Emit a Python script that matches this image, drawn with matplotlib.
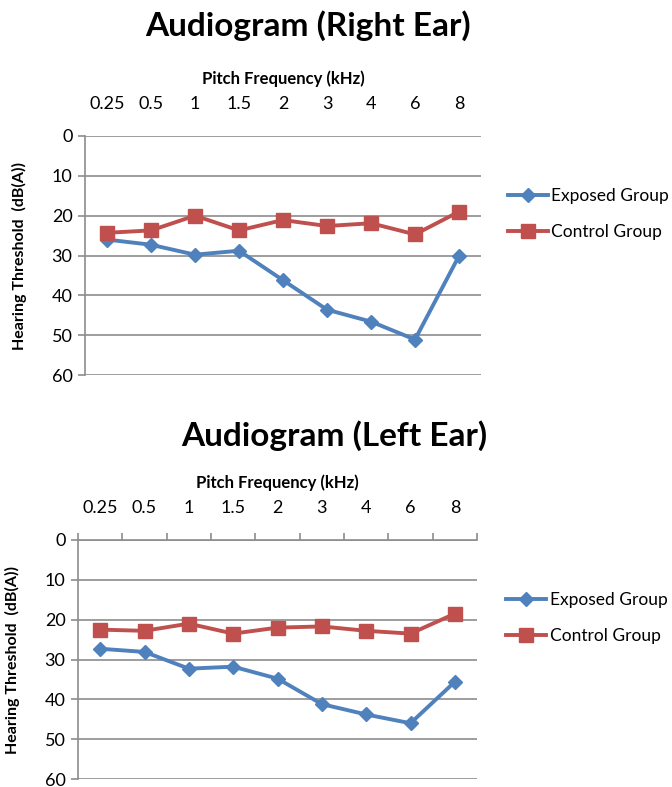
import matplotlib
matplotlib.use("Agg")
import matplotlib.pyplot as plt

plt.rcParams['font.family'] = ['Lato', 'DejaVu Sans']

# audiogram data, dB(A) thresholds per test frequency
freqs = ["0.25", "0.5", "1", "1.5", "2", "3", "4", "6", "8"]
right_exposed = [26.0, 27.3, 29.8, 28.8, 36.2, 43.6, 46.6, 51.1, 30.1]
right_control = [24.3, 23.7, 20.0, 23.7, 21.1, 22.6, 21.9, 24.7, 19.0]
left_exposed = [27.3, 28.1, 32.3, 31.8, 34.8, 41.2, 43.8, 46.0, 35.6]
left_control = [22.5, 22.8, 21.0, 23.5, 22.0, 21.7, 22.8, 23.5, 18.5]

BLUE = "#4F81BD"
RED = "#C0504D"
GRID = "#8C8C8C"

W, H = 672, 787
fig = plt.figure(figsize=(W / 100, H / 100), dpi=100)


def px_axes(left, top, right, bottom):
    return fig.add_axes([left / W, 1 - bottom / H, (right - left) / W, (bottom - top) / H])


def audiogram(ax, exposed, control, title, title_x, title_y, xticks_marks, leg_x):
    x = range(len(freqs))
    ax.plot(x, exposed, color=BLUE, lw=2.8, marker="D", ms=7.5, label="Exposed Group")
    ax.plot(x, control, color=RED, lw=2.8, marker="s", ms=9.5, label="Control Group")

    ax.set_xlim(-0.5, len(freqs) - 0.5)
    ax.set_ylim(60, 0)
    ax.set_yticks(range(0, 61, 10))
    ax.yaxis.grid(True, color=GRID, lw=1.2)
    ax.set_axisbelow(True)

    ax.xaxis.tick_top()
    ax.xaxis.set_label_position("top")
    ax.set_xticks(list(x))
    ax.set_xticklabels(freqs)
    ax.set_xticks([i - 0.5 for i in range(len(freqs) + 1)], minor=True)
    ax.tick_params(axis="x", which="major", length=0, labelsize=13, pad=17)
    if xticks_marks:
        ax.tick_params(axis="x", which="minor", top=True, length=5, color=GRID, width=1.2)
    else:
        ax.tick_params(axis="x", which="minor", top=False, length=0)
    ax.tick_params(axis="y", length=5, color=GRID, width=1.2, labelsize=13, pad=4)

    ax.set_xlabel("Pitch Frequency (kHz)", fontsize=12, fontweight="bold", labelpad=9)
    ax.set_ylabel("Hearing Threshold  (dB(A))", fontsize=11.5, fontweight="bold", labelpad=18)

    for s in ["right", "bottom"]:
        ax.spines[s].set_visible(False)
    ax.spines["left"].set_color(GRID)
    ax.spines["left"].set_linewidth(1.2)
    ax.spines["top"].set_visible(xticks_marks)
    ax.spines["top"].set_color(GRID)
    ax.spines["top"].set_linewidth(1.2)

    ax.legend(loc="center left", bbox_to_anchor=(leg_x, 0.675), frameon=False,
              fontsize=12.5, handlelength=2.3, handletextpad=0.2, labelspacing=1.15,
              borderpad=0, borderaxespad=0)

    fig.text(title_x / W, 1 - title_y / H, title, ha="center", va="center",
             fontsize=24, fontweight="bold")


ax1 = px_axes(85, 136, 481, 375)
audiogram(ax1, right_exposed, right_control, "Audiogram (Right Ear)", 308, 26, False, 1.068)

ax2 = px_axes(78, 540, 477, 779)
audiogram(ax2, left_exposed, left_control, "Audiogram (Left Ear)", 334, 436, True, 1.073)

fig.savefig("out.png", dpi=100, facecolor="white")
